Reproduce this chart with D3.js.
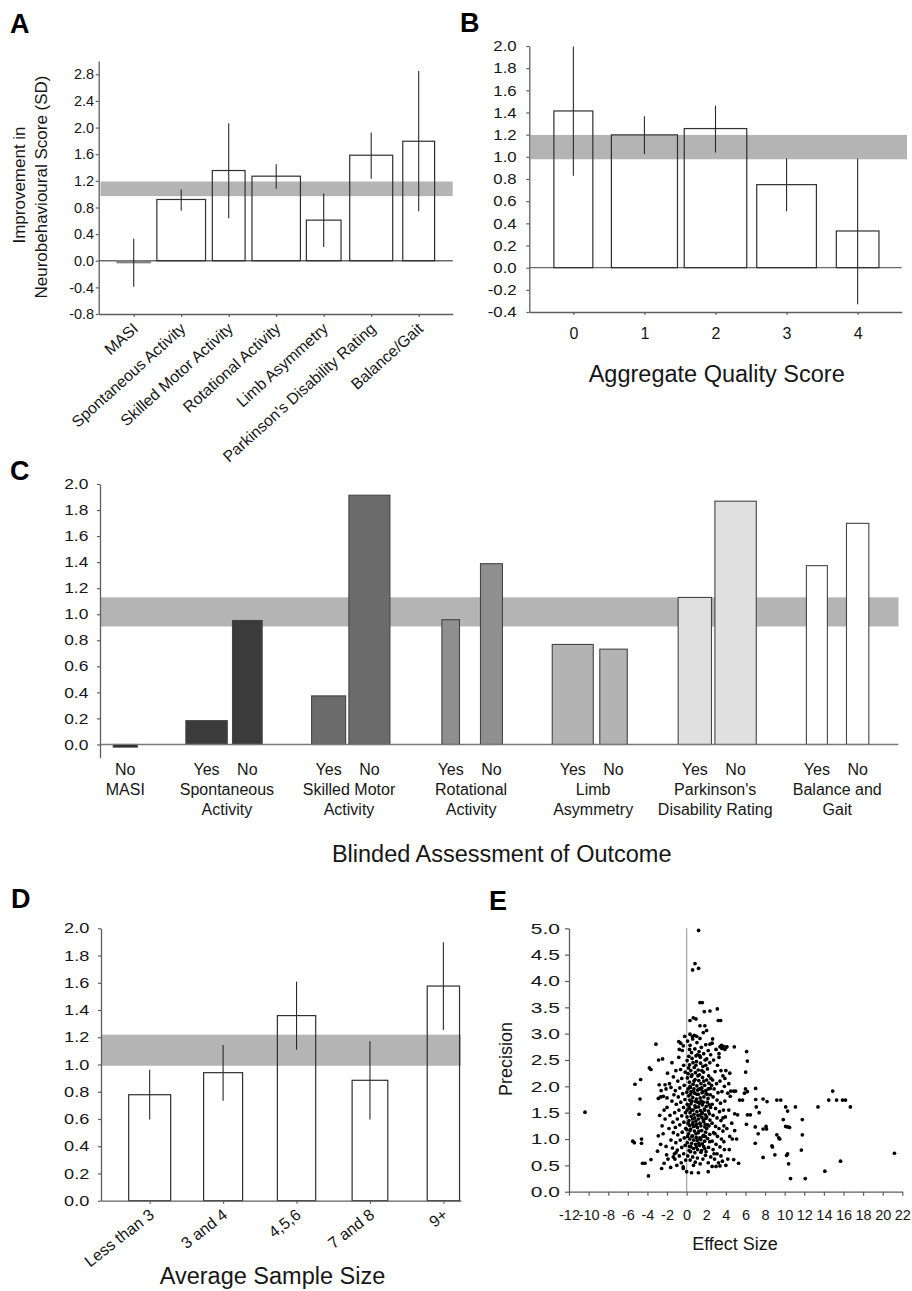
<!DOCTYPE html>
<html><head><meta charset="utf-8">
<script src="https://cdn.jsdelivr.net/npm/d3@7"></script>
<style>body{margin:0;background:#fff}svg{display:block}</style>
</head><body><svg id="fig" width="912" height="1291"></svg>
<script>
// ---------------- DATA ----------------
// Panel A
const aCategories = ["MASI","Spontaneous Activity","Skilled Motor Activity","Rotational Activity","Limb Asymmetry","Parkinson's Disability Rating","Balance/Gait"];
const aValues  = [-0.03, 0.92, 1.355, 1.27, 0.61, 1.585, 1.795];
const aErrLow  = [-0.39, 0.75, 0.64, 1.08, 0.205, 1.23, 0.745];
const aErrHigh = [0.33, 1.07, 2.065, 1.45, 1.01, 1.925, 2.85];
const aWeights = [0.70, 1.025, 0.69, 1.02, 0.73, 0.905, 0.67];
const aOverall = [0.97, 1.19];
const aYTicks  = [-0.8,-0.4,0,0.4,0.8,1.2,1.6,2.0,2.4,2.8];

// Panel B
const bCategories = ["0","1","2","3","4"];
const bValues  = [1.414, 1.198, 1.255, 0.749, 0.331];
const bErrLow  = [0.83, 1.026, 1.038, 0.509, -0.33];
const bErrHigh = [1.995, 1.366, 1.462, 0.984, 0.984];
const bWeights = [0.548, 0.93, 0.88, 0.84, 0.60];
const bOverall = [0.978, 1.198];
const bYTicks  = [-0.4,-0.2,0,0.2,0.4,0.6,0.8,1.0,1.2,1.4,1.6,1.8,2.0];

// Panel C
const cGroupNames = [["MASI"],["Spontaneous","Activity"],["Skilled Motor","Activity"],["Rotational","Activity"],["Limb","Asymmetry"],["Parkinson's","Disability Rating"],["Balance and","Gait"]];
const cBlinded = [["No"],["Yes","No"],["Yes","No"],["Yes","No"],["Yes","No"],["Yes","No"],["Yes","No"]];
const cValues  = [[-0.02],[0.183,0.952],[0.373,1.914],[0.958,1.388],[0.768,0.732],[1.129,1.868],[1.373,1.698]];
const cWeights = [[0.197],[0.339,0.243],[0.279,0.336],[0.144,0.18],[0.336,0.225],[0.273,0.339],[0.172,0.183]];
const cOverall = [0.906, 1.13];
const cYTicks  = [0,0.2,0.4,0.6,0.8,1.0,1.2,1.4,1.6,1.8,2.0];

// Panel D
const dCategories = ["Less than 3","3 and 4","4,5,6","7 and 8","9+"];
const dValues  = [0.778, 0.940, 1.359, 0.884, 1.576];
const dErrLow  = [0.597, 0.734, 1.109, 0.597, 1.253];
const dErrHigh = [0.962, 1.143, 1.608, 1.170, 1.897];
const dWeights = [0.572, 0.531, 0.522, 0.486, 0.44];
const dOverall = [0.991, 1.219];
const dYTicks  = [0,0.2,0.4,0.6,0.8,1.0,1.2,1.4,1.6,1.8,2.0];

// Panel E : [effect size, precision]
const eCore = [
 [0.1,2.86],[0.35,2.78],[0.62,2.9],[0.84,2.71],[1.05,2.83],[1.27,2.66],[1.5,2.74],[1.74,2.62],[1.95,2.79],[2.2,2.68],[2.45,2.6],[0.5,2.64],[0.95,2.58],[1.4,2.55],[2.05,2.52],[0.22,2.57],
 [0.05,2.49],[0.3,2.41],[0.55,2.53],[0.78,2.36],[1.0,2.47],[1.18,2.31],[1.42,2.44],[1.66,2.38],[1.88,2.5],[2.12,2.33],[2.36,2.45],[0.42,2.3],[0.9,2.26],[1.3,2.22],[1.72,2.27],[2.25,2.2],[0.15,2.24],
 [0.08,2.16],[0.28,2.08],[0.48,2.19],[0.66,2.04],[0.86,2.13],[1.04,2.01],[1.24,2.11],[1.46,2.05],[1.62,2.17],[1.84,2.02],[2.04,2.12],[2.28,2.06],[2.48,2.15],[0.38,1.98],[0.74,1.95],[1.12,1.93],[1.55,1.97],[1.95,1.92],[2.4,1.96],
 [0.02,1.89],[0.22,1.82],[0.45,1.9],[0.62,1.79],[0.83,1.87],[1.0,1.76],[1.2,1.85],[1.38,1.78],[1.58,1.88],[1.76,1.8],[1.98,1.86],[2.18,1.77],[2.42,1.84],[0.32,1.74],[0.92,1.71],[1.48,1.72],[2.1,1.7],
 [0.06,1.66],[0.26,1.58],[0.44,1.67],[0.65,1.55],[0.85,1.63],[1.05,1.52],[1.22,1.61],[1.41,1.54],[1.6,1.65],[1.8,1.57],[2.0,1.62],[2.22,1.53],[2.44,1.6],[0.35,1.5],[0.75,1.47],[1.15,1.45],[1.52,1.48],[1.9,1.46],[2.32,1.48],
 [0.04,1.42],[0.24,1.35],[0.46,1.43],[0.64,1.31],[0.82,1.4],[1.02,1.28],[1.2,1.38],[1.36,1.3],[1.56,1.41],[1.74,1.33],[1.96,1.39],[2.16,1.27],[2.38,1.36],[0.3,1.26],[0.7,1.24],[1.1,1.22],[1.46,1.25],[1.86,1.23],[2.28,1.25],
 [0.02,1.18],[0.2,1.1],[0.42,1.19],[0.6,1.06],[0.8,1.15],[0.98,1.03],[1.18,1.12],[1.34,1.02],[1.54,1.16],[1.72,1.07],[1.94,1.13],[2.14,1.01],[2.36,1.09],[0.32,1.0],[0.72,0.98],[1.08,0.97],[1.44,0.99],[1.84,0.96],
 [0.06,0.93],[0.28,0.86],[0.5,0.92],[0.7,0.82],[0.92,0.9],[1.12,0.8],[1.32,0.88],[1.52,0.78],[1.74,0.86],[1.98,0.76],[2.24,0.84],[0.4,0.76],[0.84,0.74],[1.6,0.91],
 [0.12,0.68],[0.36,0.6],[0.62,0.66],[0.88,0.56],[1.1,0.64],[1.38,0.53],[1.66,0.62],[1.92,0.69],[2.2,0.55],[2.46,0.66],[0.7,0.5],
 [-0.2,2.95],[-0.45,2.68],[-0.8,2.55],[-0.3,2.4],[-0.62,2.32],[-1.1,2.3],[-0.15,2.27],[-0.5,2.15],[-0.9,2.1],[-1.35,2.18],[-1.75,2.05],[-0.25,2.02],[-0.7,1.97],[-1.15,1.92],[-1.6,1.98],[-2.1,1.95],[-0.4,1.86],[-0.85,1.8],[-1.3,1.84],[-0.18,1.75],[-0.6,1.7],[-1.05,1.66],[-1.5,1.72],[-2.0,1.6],[-0.32,1.6],[-0.78,1.55],[-1.22,1.5],[-1.7,1.45],[-0.12,1.5],[-0.5,1.44],[-0.95,1.38],[-1.4,1.32],[-2.2,1.38],[-0.28,1.32],[-0.7,1.27],[-1.15,1.22],[-1.8,1.2],[-0.1,1.2],[-0.45,1.13],[-0.9,1.08],[-1.35,1.12],[-2.4,1.1],[-0.25,1.02],[-0.65,0.98],[-1.1,0.93],[-1.6,0.98],[-0.15,0.88],[-0.5,0.84],[-0.95,0.79],[-1.45,0.83],[-2.1,0.86],[-0.3,0.72],[-0.75,0.68],[-1.25,0.72],[-0.1,0.6],[-0.55,0.55],[-1.9,0.62],[-0.35,0.47],[-1.0,0.5],[-2.5,1.25],[-2.3,1.55],[-1.95,2.25],[-1.5,2.45],[-2.6,1.92],[-2.0,1.78],[-2.75,1.45],[-1.2,0.62],[-0.8,2.85],
 [2.6,2.82],[3.0,2.7],[3.3,2.62],[2.75,2.5],[3.15,2.4],[3.5,2.3],[2.9,2.28],[3.7,2.2],[2.65,2.12],[3.05,2.05],[3.4,2.1],[3.85,2.0],[2.8,1.95],[3.2,1.88],[3.6,1.9],[2.7,1.8],[3.1,1.74],[3.45,1.68],[3.9,1.72],[2.6,1.66],[2.95,1.58],[3.35,1.52],[3.75,1.55],[2.7,1.45],[3.1,1.4],[3.5,1.35],[3.95,1.42],[2.6,1.3],[2.95,1.24],[3.3,1.2],[3.7,1.15],[2.75,1.12],[3.15,1.05],[3.55,1.0],[2.6,0.96],[3.0,0.9],[3.4,0.85],[3.85,0.8],[2.7,0.8],[3.1,0.72],[3.5,0.68],[2.85,0.62],[3.25,0.55],[3.65,0.58],[2.6,0.48],[3.0,0.48],[3.4,0.49],[4.2,0.62],[4.4,1.05],[4.3,2.05],[2.55,2.02],[2.65,2.9],[3.55,2.78],[2.9,1.1],[3.8,1.25],[3.3,2.55],[2.8,0.72],
 [0.55,2.22],[0.95,2.4],[1.35,2.58],[1.75,2.1],[0.15,1.95],[0.55,1.72],[1.3,1.68],[1.7,1.36],[0.35,1.16],[1.25,0.92],[0.95,1.34],[1.65,1.9],[2.05,1.42],[0.6,1.38],[1.9,1.05],[0.25,1.62],[1.05,1.85],
 [0.15,1.3],[0.5,1.55],[0.9,1.6],[1.3,1.45],[1.7,1.7],[2.1,1.85],[0.4,1.85],[0.75,2.1],[1.15,2.2],[1.55,2.3],[1.95,2.4],[0.2,2.35],[0.65,2.45],[1.1,2.6],[0.3,2.7],[0.8,1.25],[1.25,1.15],[1.65,1.05],[2.05,1.2],[0.55,1.05],[0.1,1.05],[0.45,0.85],[1.0,0.85],[1.45,0.75],[1.85,0.82],[2.35,0.95],[0.25,0.78],[0.7,1.9],[1.45,1.95],[1.85,1.55],[2.3,1.65],[0.05,1.55],[0.6,1.28],[1.9,1.28],[1.15,1.7],[1.6,1.5],[0.35,2.0],[1.3,1.95],[2.2,1.95],[0.95,1.1]
];
const eScattered = [[1.22,4.96],[0.85,4.33],[0.61,4.21],[1.22,4.24],[1.36,3.59],[1.6,3.59],[1.8,3.42],[2.38,3.43],[3.13,3.47],[0.34,3.25],[0.68,3.3],[0.95,3.28],[3.23,3.25],[3.47,3.25],[1.36,3.15],[1.86,3.15],[2.04,3.06],[1.7,3.02],[0.34,2.99],[0.58,2.94],[0.78,2.97],[1.02,2.95],[1.36,2.91],[-0.6,2.82],[-0.34,2.77],[-0.75,2.7],[-3.13,2.8],[4.86,2.75],[3.4,2.75],[3.74,2.76],[4.08,2.75],[2.38,2.8],[6.12,2.66],[6.19,2.48],[6.02,2.27],[-2.86,2.5],[-2.45,2.52],[-3.8,2.35],[-3.64,2.32],[-4.69,2.13],[-5.27,2.04],[-10.37,1.51],[-4.76,1.76],[-4.86,1.47],[-5.5,0.96],[-5.34,0.93],[-4.6,1.0],[-4.6,0.92],[-4.5,0.54],[-4.25,0.54],[-3.9,0.3],[-3.64,0.61],[-2.89,1.06],[-2.65,0.9],[-2.55,0.44],[-2.3,0.54],[-1.63,0.46],[-2.97,0.77],[-2.04,0.7],[-1.36,0.66],[-1.09,0.74],[-2.89,1.77],[-2.65,1.8],[-2.38,1.81],[-2.8,2.03],[-2.2,2.03],[6.0,1.95],[6.2,1.9],[5.9,1.87],[7.04,1.96],[7.04,1.75],[7.8,1.76],[8.2,1.71],[9.2,1.74],[9.6,1.74],[10.1,1.61],[11.1,1.61],[10.3,1.53],[13.4,1.61],[14.5,1.74],[14.9,1.91],[15.3,1.74],[15.9,1.74],[16.2,1.74],[16.7,1.61],[21.2,0.73],[15.7,0.58],[14.1,0.39],[10.6,0.25],[12.1,0.25],[10.4,0.53],[11.7,0.79],[10.3,0.72],[10.2,0.69],[11.8,1.37],[11.8,1.08],[9.86,1.37],[10.1,1.24],[10.3,1.23],[10.5,1.22],[9.5,1.0],[9.2,1.08],[9.4,1.02],[8.7,0.87],[8.75,0.85],[9.0,0.7],[7.8,0.65],[7.0,0.92],[7.0,1.23],[7.3,1.1],[7.8,1.19],[8.1,1.24],[8.15,1.19],[7.1,1.61],[7.4,1.5],[6.2,1.46],[6.5,1.46],[6.1,1.28],[4.9,1.48],[5.2,1.46],[5.4,1.74],[5.7,1.74],[4.5,1.91],[4.8,1.91],[5.0,1.91],[4.2,1.87],[4.45,1.81],[5.3,0.54],[4.8,0.61],[5.1,1.0],[4.66,1.0],[4.9,1.16],[1.2,0.36],[0.5,0.36],[0.0,0.38],[-0.34,0.44],[2.2,0.38],[4.0,2.3],[4.4,2.25],[3.9,2.15],[4.3,1.55],[4.1,1.2],[4.6,1.3],[3.8,0.95],[4.35,0.8],[4.0,0.5],[3.7,1.4],[3.6,2.72],[3.9,2.7],[4.1,2.75]];
const eXTicks = [-12,-10,-8,-6,-4,-2,0,2,4,6,8,10,12,14,16,18,20,22];
const eYTicks = [0,0.5,1.0,1.5,2.0,2.5,3.0,3.5,4.0,4.5,5.0];

// ---------------- STYLE ----------------
const FONT = "'Liberation Sans', Arial, Helvetica, sans-serif";
const AXIS = "#5e5e5e", INK = "#161616", BAND = "#b4b4b4", BAR_STROKE = "#303030", ERR = "#2a2a2a";
const cFills = ["#1e1e1e","#3b3b3b","#6b6b6b","#8f8f8f","#b3b3b3","#e0e0e0","#ffffff"];

const svg = d3.select("#fig");
const fmt = d => (d < 0 ? "-" : "") + Math.abs(d).toFixed(1);

function styleText(sel, fs) {
  sel.attr("font-family", FONT).attr("font-size", fs).attr("fill", INK);
}

function yAxis(y, x0, ticks, o) {
  const ax = d3.axisLeft(y).tickValues(ticks).tickFormat(o.format || fmt).tickSize(o.tickSize || 3).tickSizeOuter(0);
  const a = svg.append("g").attr("transform", `translate(${x0},0)`).call(ax);
  a.select(".domain").attr("stroke", AXIS).attr("stroke-width", 1.3);
  a.selectAll(".tick line").attr("stroke", AXIS).attr("stroke-width", 1.2);
  a.selectAll("text").call(styleText, o.fs)
    .attr("x", -o.gap / o.sx).attr("transform", `scale(${o.sx},1)`);
  return a;
}

function panelLetter(t, x, y) {
  svg.append("text").text(t).attr("x", x).attr("y", y)
    .attr("font-family", FONT).attr("font-weight", "bold").attr("font-size", 27).attr("fill", "#000");
}

function errorBarPanel(c) {
  const g = svg.append("g");
  const step = c.x(1) - c.x(0);
  g.append("rect").attr("x", c.bandX[0]).attr("width", c.bandX[1] - c.bandX[0])
    .attr("y", c.y(c.band[1])).attr("height", c.y(c.band[0]) - c.y(c.band[1])).attr("fill", BAND);
  if (c.zeroLine) {
    g.append("line").attr("x1", c.x.range()[0]).attr("x2", c.x.range()[1])
      .attr("y1", c.y(0)).attr("y2", c.y(0)).attr("stroke", "#6a6a6a").attr("stroke-width", 1.3);
  }
  g.selectAll("rect.bar").data(c.values).join("rect").attr("class", "bar")
    .attr("x", (d, i) => c.x(i) - c.weights[i] * step / 2)
    .attr("width", (d, i) => c.weights[i] * step)
    .attr("y", d => c.y(Math.max(0, d)))
    .attr("height", d => Math.max(1.5, Math.abs(c.y(d) - c.y(0))))
    .attr("fill", d => d < 0 ? "#8a8a8a" : "none")
    .attr("stroke", d => d < 0 ? "#7a7a7a" : BAR_STROKE).attr("stroke-width", 1.2);
  g.selectAll("line.err").data(c.values).join("line").attr("class", "err")
    .attr("x1", (d, i) => c.x(i)).attr("x2", (d, i) => c.x(i))
    .attr("y1", (d, i) => c.y(c.low[i])).attr("y2", (d, i) => c.y(c.high[i]))
    .attr("stroke", ERR).attr("stroke-width", 1.1);
  const ax = d3.axisBottom(c.x).tickValues(d3.range(c.cats.length))
    .tickFormat(i => c.cats[i]).tickSize(3).tickSizeOuter(0).tickPadding(c.tickPad || 3);
  const a = svg.append("g").attr("transform", `translate(0,${c.axisY})`).call(ax);
  a.select(".domain").attr("stroke", AXIS).attr("stroke-width", 1.3);
  a.selectAll(".tick line").attr("stroke", AXIS).attr("stroke-width", 1.2);
  a.selectAll("text").call(styleText, c.xfs);
  if (c.rotate) {
    a.selectAll("text").attr("x", 0).attr("y", 0).attr("dy", 0)
      .attr("text-anchor", "end")
      .attr("transform", `translate(${c.rotOff[0]},${c.rotOff[1]}) rotate(${c.rotate})`);
  }
  yAxis(c.y, c.x.range()[0], c.yTicks, c.yOpt);
}

// ---------------- PANEL A ----------------
{
  const x = d3.scaleLinear().domain([-0.737, 6.716]).range([98.7, 452.7]);
  const y = d3.scaleLinear().domain([-0.8, 3.0]).range([314, 61]);
  errorBarPanel({x, y, values: aValues, low: aErrLow, high: aErrHigh, weights: aWeights,
    band: aOverall, bandX: [100.5, 452.7], zeroLine: true, cats: aCategories, axisY: 314,
    xfs: 15.8, rotate: -42, rotOff: [5, 16], yTicks: aYTicks,
    yOpt: {fs: 14.5, sx: 1.0, gap: 4.5}});
  const lab = svg.append("g").attr("font-family", FONT).attr("font-size", 17).attr("fill", INK).attr("text-anchor", "middle");
  lab.append("text").text("Improvement in").attr("transform", "translate(25,185) rotate(-90)");
  lab.append("text").text("Neurobehavioural Score (SD)").attr("transform", "translate(46.5,187) rotate(-90)");
  panelLetter("A", 10, 33);
}

// ---------------- PANEL B ----------------
{
  const x = d3.scaleLinear().domain([-0.62, 4.62]).range([529.3, 901.7]);
  const y = d3.scaleLinear().domain([-0.4, 2.0]).range([312, 46]);
  errorBarPanel({x, y, values: bValues, low: bErrLow, high: bErrHigh, weights: bWeights,
    band: bOverall, bandX: [530.5, 907], zeroLine: true, cats: bCategories, axisY: 312,
    xfs: 16, tickPad: 13, yTicks: bYTicks,
    yOpt: {fs: 15, sx: 1.12, gap: 12.6}});
  svg.append("text").text("Aggregate Quality Score").attr("x", 716.7).attr("y", 382)
    .attr("text-anchor", "middle").call(styleText, 23.5);
  panelLetter("B", 460, 32);
}

// ---------------- PANEL C ----------------
{
  const x = d3.scaleLinear().domain([-0.04, 6.5]).range([100, 898.3]);
  const y = d3.scaleLinear().domain([-0.1, 2.0]).range([757.5, 484]);
  const step = x(1) - x(0);
  const slot = {Yes: -0.167, No: 0.167};
  const bars = [];
  cValues.forEach((vals, gi) => vals.forEach((v, k) => {
    bars.push({g: gi, lab: cBlinded[gi][k], v, w: cWeights[gi][k], c: x(gi + slot[cBlinded[gi][k]])});
  }));
  svg.append("rect").attr("x", 100.5).attr("width", 898.5 - 100.5)
    .attr("y", y(cOverall[1])).attr("height", y(cOverall[0]) - y(cOverall[1])).attr("fill", BAND);
  svg.append("g").selectAll("rect").data(bars).join("rect")
    .attr("x", d => d.c - d.w * step / 2).attr("width", d => d.w * step)
    .attr("y", d => y(Math.max(0, d.v))).attr("height", d => Math.max(2.5, Math.abs(y(d.v) - y(0))))
    .attr("fill", d => cFills[d.g]).attr("stroke", "#444").attr("stroke-width", 1.1);
  svg.append("line").attr("x1", 100).attr("x2", 898.3).attr("y1", y(0)).attr("y2", y(0))
    .attr("stroke", "#7a7a7a").attr("stroke-width", 1.5);
  yAxis(y, 100, cYTicks, {fs: 14.5, sx: 1.2, gap: 11.7});
  const lg = svg.append("g").attr("text-anchor", "middle");
  lg.selectAll("text.yn").data(bars).join("text").attr("class", "yn")
    .text(d => d.lab).attr("x", d => d.c).attr("y", 775).call(styleText, 16);
  cGroupNames.forEach((lines, gi) => {
    const cx = d3.mean(bars.filter(b => b.g === gi), b => b.c);
    lines.forEach((t, li) => {
      lg.append("text").text(t).attr("x", cx).attr("y", 795 + li * 19.5).call(styleText, 16);
    });
  });
  svg.append("text").text("Blinded Assessment of Outcome").attr("x", 501.7).attr("y", 862)
    .attr("text-anchor", "middle").call(styleText, 23.5);
  panelLetter("C", 10, 480);
}

// ---------------- PANEL D ----------------
{
  const x = d3.scaleLinear().domain([-0.663, 4.24]).range([101, 461]);
  const y = d3.scaleLinear().domain([0, 2.0]).range([1200.7, 928.3]);
  errorBarPanel({x, y, values: dValues, low: dErrLow, high: dErrHigh, weights: dWeights,
    band: dOverall, bandX: [102, 461], zeroLine: false, cats: dCategories, axisY: 1200.7,
    xfs: 16, rotate: -38, rotOff: [5, 16], yTicks: dYTicks,
    yOpt: {fs: 14.5, sx: 1.25, gap: 11.7}});
  svg.append("text").text("Average Sample Size").attr("x", 272.5).attr("y", 1284)
    .attr("text-anchor", "middle").call(styleText, 23.5);
  panelLetter("D", 11, 908);
}

// ---------------- PANEL E ----------------
{
  const x = d3.scaleLinear().domain([-12, 22]).range([569, 902.3]);
  const y = d3.scaleLinear().domain([0, 5]).range([1191.7, 928.3]);
  const pts = eCore.concat(eScattered);
  svg.append("line").attr("x1", x(0)).attr("x2", x(0)).attr("y1", y(0)).attr("y2", y(5))
    .attr("stroke", "#a8a8a8").attr("stroke-width", 1.3);
  svg.append("g").selectAll("circle").data(pts).join("circle")
    .attr("cx", d => x(d[0])).attr("cy", d => y(d[1])).attr("r", 1.85).attr("fill", "#000");
  yAxis(y, 569, eYTicks, {fs: 15, sx: 1.4, gap: 9, tickSize: 4});
  const ax = d3.axisBottom(x).tickValues(eXTicks).tickFormat(d => (d < 0 ? "-" : "") + Math.abs(d))
    .tickSize(4).tickSizeOuter(0).tickPadding(14);
  const a = svg.append("g").attr("transform", `translate(0,${y(0)})`).call(ax);
  a.select(".domain").attr("stroke", AXIS).attr("stroke-width", 1.3);
  a.selectAll(".tick line").attr("stroke", AXIS).attr("stroke-width", 1.2);
  a.selectAll("text").call(styleText, 14.5);
  svg.append("text").text("Effect Size").attr("x", 735).attr("y", 1250)
    .attr("text-anchor", "middle").call(styleText, 18);
  svg.append("text").text("Precision").attr("transform", "translate(512,1059) rotate(-90)")
    .attr("text-anchor", "middle").call(styleText, 18);
  panelLetter("E", 489, 910);
}
</script></body></html>
